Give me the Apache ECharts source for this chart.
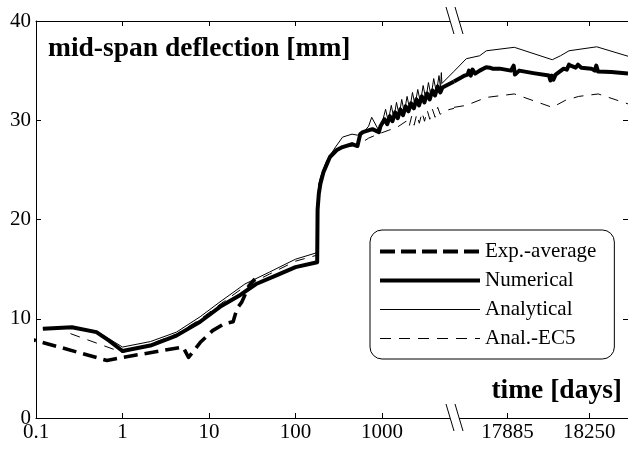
<!DOCTYPE html>
<html>
<head>
<meta charset="utf-8">
<script src="https://cdn.jsdelivr.net/npm/echarts@6/dist/echarts.min.js"></script>
<style>html,body{margin:0;padding:0;background:#fff}#c{width:628px;height:450px}</style>
</head>
<body>
<div id="c"></div>
<script>
// ---- tick labels ----
const logTicks = [0.1, 1, 10, 100, 1000];
const linTicks = [17885, 18250];
const yTicks = [0, 10, 20, 30, 40];

// ---- series data: [time in days, mid-span deflection in mm] ----
// log-scale part of the time axis (0.1 ... break)
const expAvgLog = [[0.04,8.5],[0.1,7.8],[0.66,5.8],[1.0,6.1],[5.0,7.15],[5.8,6.1],[7.9,7.6],[11,8.8],[15,9.5],[19,9.7],[20,9.8],[21,11.0],[24,11.7],[26,12.4],[30,13.5],[34,14.0]];

const numericalLog = [[0.12,9.0],[0.26,9.15],[0.5,8.65],[0.7,7.8],[1.0,6.75],[2.1,7.3],[4.2,8.3],[7.9,9.7],[13.4,11.2],[23,12.4],[35,13.5],[61,14.4],[100,15.2],[178,15.7],[180,21.0],[186,22.6],[194,23.6],[211,24.8],[250,26.3],[300,27.0],[350,27.3],[450,27.6],[520,27.4],[560,28.6],[600,28.8],[775,29.1],[920,28.8],[960,29.4],
  [1000,29.6],[1070,30.1],[1150,29.6],[1230,30.4],[1320,29.9],[1420,30.8],[1520,30.2],[1630,31.1],[1750,30.5],[1880,31.4],[2020,30.9],[2170,31.7],[2330,31.2],[2500,32.1],[2680,31.5],[2880,32.4],[3090,31.8],[3320,32.7],[3560,32.1],[3820,33.0],[4100,32.5],[4400,33.4],[4720,32.8],[5000,33.3],[6795,33.9]];

const analyticalLog = [[0.12,9.05],[0.26,9.2],[0.5,8.75],[1.0,7.15],[2.1,7.7],[4.2,8.65],[7.9,10.2],[13.4,11.7],[26,13.5],[50,14.7],[100,16.0],[176,16.65],[180,22.0],[186,23.6],[195,24.3],[230,25.95],[290,27.3],[350,28.3],[450,28.6],[520,28.5],[600,28.7],[700,29.4],[760,30.3],[900,29.1],
  [1000,29.7],[1100,31.1],[1180,29.9],[1280,31.5],[1370,30.2],[1470,31.8],[1580,30.5],[1690,32.1],[1810,30.8],[1950,32.4],[2090,31.1],[2250,32.8],[2410,31.5],[2590,33.1],[2780,31.8],[2990,33.5],[3210,32.1],[3440,33.8],[3690,32.4],[3960,34.2],[4250,32.8],[4560,34.5],[4750,33.2],[4850,34.8],[4920,33.7],[6795,34.93]];

const ec5Log = [[0.25,8.5],[1.0,6.6],[2.1,7.45],[4.2,8.45],[7.9,9.95],[13.4,11.45],[26,13.25],[50,14.5],[100,15.8],[176,16.4],[180,21.5],[186,23.0],[195,24.0],[230,25.6],[290,26.8],[350,27.2],[450,27.4],[550,27.6],[700,28.2],[900,28.6],[1200,29.0],[1500,29.3],
  [1900,29.9],[2050,29.3],[2200,30.4],[2350,29.5],[2520,30.6],[2700,29.7],[2900,30.8],[3100,29.9],[3330,31.0],[3570,30.1],[3830,31.1],[4110,30.3],[4400,31.3],[4700,30.6],[5820,31.05],[6795,31.2]];

// linear part of the time axis (after the break)
const numericalLin = [[17645,33.9],[17693,34.5],[17706,34.6],[17712,35.0],[17720,34.5],[17728,35.1],[17740,34.7],[17760,35.0],[17789,35.35],[17805,35.3],[17817,35.2],[17850,35.2],[17900,35.0],[17912,35.5],[17918,34.6],[17937,35.0],[18000,34.75],[18070,34.5],[18077,34.0],[18083,34.5],[18090,34.1],[18100,34.6],[18136,35.2],[18150,35.1],[18160,35.6],[18173,35.45],[18190,35.3],[18200,35.6],[18215,35.3],[18260,35.2],[18275,35.0],[18282,35.5],[18290,34.9],[18349,34.85],[18424,34.7]];

const analyticalLin = [[17645,34.93],[17700,36.2],[17760,36.5],[17790,37.0],[17915,37.35],[18085,36.1],[18122,36.5],[18160,37.0],[18284,37.4],[18424,36.45]];

const ec5Lin = [[17645,31.3],[17700,31.5],[17790,32.3],[17915,32.65],[18085,31.3],[18143,32.0],[18203,32.4],[18291,32.65],[18424,31.65]];

const names = ['Exp.-average', 'Numerical', 'Analytical', 'Anal.-EC5'];

// ---- layout ----
const FONT = '"Liberation Serif", "Times New Roman", serif';
const GT = 21, GH = 397;            // grid top / height
const AL = 36, AW = 418;            // log part
const BL = AL + AW, BW = 176;       // linear part
const fmt = v => String(+(+v).toPrecision(8));

const axisCommon = {
  axisLine: {show: true, lineStyle: {color: '#000', width: 1}},
  axisTick: {show: true, inside: true, length: 5, lineStyle: {color: '#000', width: 1}},
  splitLine: {show: false},
  minorTick: {show: false}
};
const labelStyle = {color: '#000', fontFamily: FONT, fontSize: 21};

const chart = echarts.init(document.getElementById('c'), null, {renderer: 'canvas'});

const styles = {
  'Exp.-average': {color: '#000', width: 3.6, type: [14, 7], join: 'round'},
  'Numerical': {color: '#000', width: 4, type: 'solid', join: 'round'},
  'Analytical': {color: '#000', width: 1, type: 'solid'},
  'Anal.-EC5': {color: '#000', width: 1, type: [10, 8]}
};
const legendLine = {
  'Exp.-average': {color: '#000', width: 4, type: [15, 6]},
  'Numerical': {color: '#000', width: 4, type: 'solid'},
  'Analytical': {color: '#000', width: 1, type: 'solid'},
  'Anal.-EC5': {color: '#000', width: 1, type: [11, 8]}
};
const hidden = {color: 'rgba(0,0,0,0)', borderColor: 'rgba(0,0,0,0)', borderWidth: 0, opacity: 0};

function mk(name, data, xi, yi, clip) {
  return {
    name, type: 'line', data, xAxisIndex: xi, yAxisIndex: yi,
    symbol: 'none', showSymbol: false, smooth: false, clip: clip !== false,
    lineStyle: styles[name], itemStyle: {color: '#000'},
    emphasis: {disabled: true}, silent: true
  };
}

const option = {
  animation: false,
  backgroundColor: '#fff',
  grid: [
    {left: AL, top: GT, width: AW, height: GH},
    {left: BL, top: GT, width: BW, height: GH}
  ],
  xAxis: [
    Object.assign({}, axisCommon, {gridIndex: 0, type: 'log', logBase: 10, min: 0.1, max: 6795, position: 'bottom',
      axisTick: Object.assign({}, axisCommon.axisTick, {customValues: logTicks}),
      axisLabel: Object.assign({}, labelStyle, {margin: 4, customValues: logTicks, formatter: fmt})}),
    Object.assign({}, axisCommon, {gridIndex: 0, type: 'log', logBase: 10, min: 0.1, max: 6795, position: 'top',
      axisTick: Object.assign({}, axisCommon.axisTick, {customValues: logTicks}),
      axisLabel: {show: false}}),
    Object.assign({}, axisCommon, {gridIndex: 1, type: 'value', min: 17645, max: 18424, position: 'bottom',
      axisTick: Object.assign({}, axisCommon.axisTick, {customValues: linTicks}),
      axisLabel: Object.assign({}, labelStyle, {margin: 4, customValues: linTicks, formatter: fmt})}),
    Object.assign({}, axisCommon, {gridIndex: 1, type: 'value', min: 17645, max: 18424, position: 'top',
      axisTick: Object.assign({}, axisCommon.axisTick, {customValues: linTicks}),
      axisLabel: {show: false}})
  ],
  yAxis: [
    Object.assign({}, axisCommon, {gridIndex: 0, type: 'value', min: 0, max: 40, interval: 10, position: 'left',
      axisLabel: Object.assign({}, labelStyle, {margin: 5, formatter: fmt})}),
    Object.assign({}, axisCommon, {gridIndex: 1, type: 'value', min: 0, max: 40, interval: 10, position: 'right',
      axisLabel: {show: false}})
  ],
  legend: {
    orient: 'vertical', left: 370, top: 230,
    padding: [10.5, 18, 9.5, 8], itemGap: 7, itemWidth: 100, itemHeight: 14,
    borderColor: '#000', borderWidth: 1, borderRadius: 12, backgroundColor: '#fff',
    textStyle: {fontFamily: FONT, fontSize: 21, color: '#000', lineHeight: 22},
    itemStyle: hidden,
    data: names.map(n => ({name: n, lineStyle: legendLine[n], itemStyle: hidden})),
    selectedMode: false
  },
  series: [
    mk('Exp.-average', expAvgLog, 0, 0, false),
    mk('Numerical', numericalLog, 0, 0),
    mk('Numerical', numericalLin, 2, 1),
    mk('Analytical', analyticalLog, 0, 0),
    mk('Analytical', analyticalLin, 2, 1),
    mk('Anal.-EC5', ec5Log, 0, 0),
    mk('Anal.-EC5', ec5Lin, 2, 1)
  ],
  graphic: [
    // axis break marks
    {type: 'rect', shape: {x: 450, y: GT - 2, width: 9, height: 4}, style: {fill: '#fff'}, z: 100},
    {type: 'rect', shape: {x: 450, y: GT + GH - 2, width: 9, height: 4}, style: {fill: '#fff'}, z: 100},
    {type: 'line', shape: {x1: 446, y1: GT - 14, x2: 454, y2: GT + 13}, style: {stroke: '#000', lineWidth: 1}, z: 101},
    {type: 'line', shape: {x1: 455, y1: GT - 14, x2: 463, y2: GT + 13}, style: {stroke: '#000', lineWidth: 1}, z: 101},
    {type: 'line', shape: {x1: 446, y1: GT + GH - 14, x2: 454, y2: GT + GH + 13}, style: {stroke: '#000', lineWidth: 1}, z: 101},
    {type: 'line', shape: {x1: 455, y1: GT + GH - 14, x2: 463, y2: GT + GH + 13}, style: {stroke: '#000', lineWidth: 1}, z: 101},
    // axis titles
    {type: 'text', left: 48, top: 35, style: {text: 'mid-span deflection [mm]', font: 'bold 27.5px ' + FONT, fill: '#000'}, z: 50},
    {type: 'text', right: 6, top: 377, style: {text: 'time [days]', font: 'bold 27.5px ' + FONT, fill: '#000'}, z: 50}
  ]
};
chart.setOption(option);
</script>
</body>
</html>
